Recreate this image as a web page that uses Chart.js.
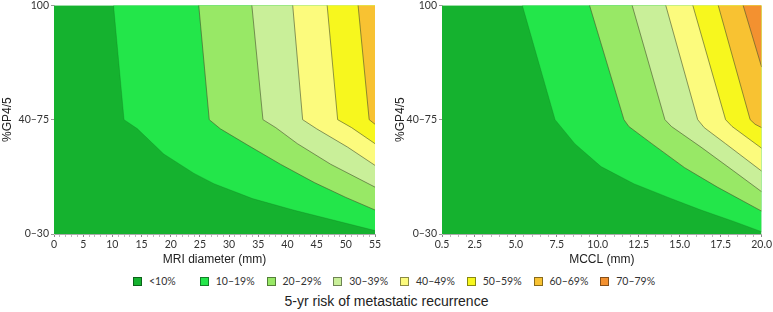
<!DOCTYPE html>
<html>
<head>
<meta charset="utf-8">
<script src="https://cdn.jsdelivr.net/npm/chart.js@4.4.1/dist/chart.umd.min.js"></script>
<style>
  html, body { margin: 0; padding: 0; background: #fff; }
  body { width: 773px; height: 312px; position: relative; overflow: hidden; font-family: 'Liberation Sans', Arial, sans-serif; }
  #mriChart { position: absolute; left: 0; top: -3px; }
  #mcclChart { position: absolute; left: 388px; top: -3px; }
  #legend { position: absolute; left: 133px; top: 275px; display: flex; font-family: Lato, sans-serif; font-size: 10.5px; color: #333; }
  .item { width: 66.75px; display: flex; align-items: center; white-space: nowrap; }
  .swatch { width: 7px; height: 7px; border: 1px solid rgba(0, 0, 0, 0.45); margin-right: 7px; }
  #caption { position: absolute; left: 0; width: 773px; top: 293px; text-align: center; font-size: 14px; color: #222; }
</style>
</head>
<body>
<canvas id="mriChart" width="386" height="275"></canvas>
<canvas id="mcclChart" width="385" height="275"></canvas>
<div id="legend"></div>
<div id="caption">5-yr risk of metastatic recurrence</div>
<script>
  // risk bands, low to high
  const riskLabels = ['<10%', '10–19%', '20–29%', '30–39%', '40–49%', '50–59%', '60–69%', '70–79%'];
  const riskColors = ['#15b22f', '#23e64a', '#98e866', '#c9ef99', '#fcfb7d', '#f7f71e', '#f8c232', '#f39130'];

  // %GP4/5 categories, bottom to top (y = 0, 1, 2)
  const gp45Labels = ['0–30', '40–75', '100'];

  // contour boundaries as [x, y] pairs, region above/right is the next band
  const mri10 = [[10.2, 2], [12.0, 1], [14.3, 0.92], [18.8, 0.70], [24.0, 0.53], [27.4, 0.44], [34.0, 0.31], [41.0, 0.21], [48.0, 0.12], [55, 0.03]];
  const mri20 = [[24.8, 2], [26.6, 1], [28.5, 0.92], [33.1, 0.78], [38.8, 0.61], [44.6, 0.45], [50.0, 0.32], [55, 0.21]];
  const mri30 = [[33.9, 2], [35.8, 1], [38.0, 0.93], [41.7, 0.79], [47.4, 0.61], [55, 0.41]];
  const mri40 = [[40.9, 2], [42.6, 1], [45.0, 0.92], [50.3, 0.76], [55, 0.60]];
  const mri50 = [[46.8, 2], [48.6, 1], [51.0, 0.93], [55, 0.79]];
  const mri60 = [[52.1, 2], [54.0, 1], [55, 0.96]];

  const mccl10 = [[5.4, 2], [7.4, 1], [7.8, 0.93], [8.6, 0.79], [10.2, 0.59], [12.2, 0.44], [14.3, 0.32], [16.3, 0.21], [18.3, 0.11], [20, 0.02]];
  const mccl20 = [[9.5, 2], [11.6, 1], [11.9, 0.94], [13.3, 0.79], [15.3, 0.58], [17.3, 0.41], [20, 0.20]];
  const mccl30 = [[12.1, 2], [14.1, 1], [14.5, 0.94], [16.3, 0.76], [18.3, 0.55], [20, 0.37]];
  const mccl40 = [[14.15, 2], [16.1, 1], [16.5, 0.93], [17.8, 0.79], [20, 0.55]];
  const mccl50 = [[15.8, 2], [17.8, 1], [18.2, 0.94], [20, 0.75]];
  const mccl60 = [[17.35, 2], [19.3, 1], [19.6, 0.96], [20, 0.93]];
  const mccl70 = [[18.87, 2], [20, 1.46]];

  const mriTicks = [0, 5, 10, 15, 20, 25, 30, 35, 40, 45, 50, 55];
  const mcclTicks = [0.5, 2.5, 5.0, 7.5, 10.0, 12.5, 15.0, 17.5, 20.0];

  const lineColor = 'rgba(70, 80, 45, 0.75)';
  const tickFont = { family: 'Lato', size: 10.5 };
  const titleFont = { family: "'Liberation Sans', Arial", size: 12 };

  function buildDatasets(min, max, bounds) {
    const sets = [{
      data: [{ x: min, y: 0 }, { x: max, y: 0 }],
      fill: 'end',
      backgroundColor: riskColors[0],
      borderColor: 'transparent',
      borderWidth: 0,
      pointRadius: 0,
      order: 99
    }];
    bounds.forEach((b, i) => {
      sets.push({
        data: b.map(([x, y]) => ({ x, y })),
        fill: 'end',
        backgroundColor: riskColors[i + 1],
        borderColor: i === 0 ? 'rgba(20, 110, 30, 0.35)' : lineColor,
        borderWidth: 0.8,
        pointRadius: 0,
        tension: 0,
        order: 98 - i
      });
    });
    return sets;
  }

  function makeChart(id, cfg) {
    const minor = [];
    for (let v = cfg.min; v <= cfg.max + 1e-9; v += cfg.minorStep) minor.push(Math.round(v * 100) / 100);

    return new Chart(document.getElementById(id), {
      type: 'line',
      data: { datasets: buildDatasets(cfg.min, cfg.max, cfg.bounds) },
      options: {
        responsive: false,
        animation: false,
        devicePixelRatio: 1,
        layout: { padding: { top: 6, right: cfg.rightPad, bottom: 0, left: 0 } },
        plugins: { legend: { display: false }, tooltip: { enabled: false } },
        scales: {
          x: {
            type: 'linear',
            min: cfg.min,
            max: cfg.max,
            afterBuildTicks: (s) => { s.ticks = minor.map((v) => ({ value: v })); },
            afterFit: (s) => { s.height = 38; },
            ticks: {
              autoSkip: false,
              maxRotation: 0,
              padding: 1,
              color: '#333',
              font: tickFont,
              callback: (v) => (cfg.major.includes(v) ? cfg.fmt(v) : '')
            },
            grid: {
              drawOnChartArea: false,
              tickLength: 3,
              color: (ctx) => (ctx.tick && cfg.major.includes(ctx.tick.value) ? '#888' : '#bbb')
            },
            border: { color: '#aaa' },
            title: { display: true, text: cfg.xTitle, color: '#222', font: titleFont, padding: { top: 0, bottom: 5 } }
          },
          y: {
            type: 'linear',
            min: 0,
            max: 2,
            afterBuildTicks: (s) => { s.ticks = [0, 1, 2].map((v) => ({ value: v })); },
            afterFit: (s) => { s.width = 54; },
            ticks: { padding: 2, color: '#333', font: tickFont, callback: (v) => gp45Labels[v] },
            grid: { drawOnChartArea: false, tickLength: 3, color: '#999' },
            border: { color: '#ccc' },
            title: { display: true, text: '%GP4/5', color: '#222', font: titleFont, padding: { top: cfg.yTitlePad, bottom: 0 } }
          }
        }
      }
    });
  }

  makeChart('mriChart', {
    min: 0, max: 55, minorStep: 1, major: mriTicks, rightPad: 11, yTitlePad: 0,
    fmt: (v) => String(v), xTitle: 'MRI diameter (mm)',
    bounds: [mri10, mri20, mri30, mri40, mri50, mri60]
  });

  makeChart('mcclChart', {
    min: 0.5, max: 20, minorStep: 0.5, major: mcclTicks, rightPad: 10, yTitlePad: 5,
    fmt: (v) => v.toFixed(1), xTitle: 'MCCL (mm)',
    bounds: [mccl10, mccl20, mccl30, mccl40, mccl50, mccl60, mccl70]
  });

  const legend = document.getElementById('legend');
  legend.innerHTML = riskLabels
    .map((label, i) => `<div class="item"><span class="swatch" style="background:${riskColors[i]}"></span><span>${label.replace('<', '&lt;')}</span></div>`)
    .join('');
</script>
</body>
</html>
